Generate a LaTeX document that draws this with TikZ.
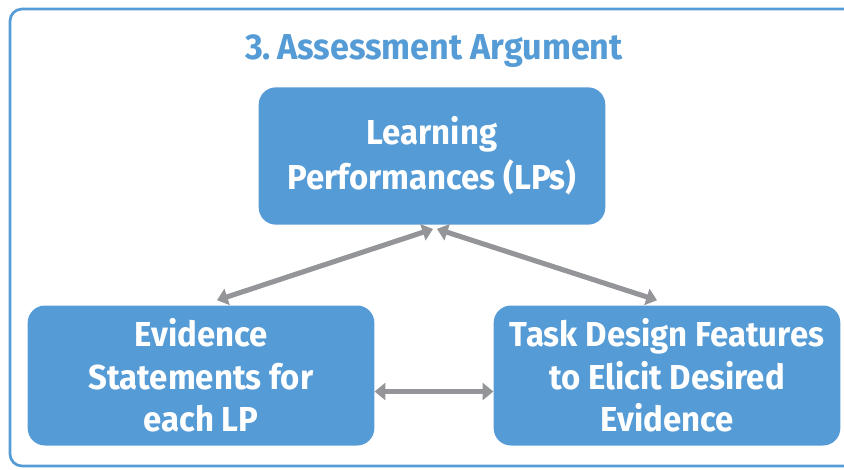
\documentclass[tikz,border=0pt]{standalone}
\usepackage{fontspec}
\setmainfont[FakeStretch=0.95]{Fira Sans}
\usetikzlibrary{arrows.meta,positioning,calc}
\definecolor{boxblue}{HTML}{559BD5}
\definecolor{argray}{HTML}{939598}
\tikzset{
    %Define style for boxes
    punkt/.style={
           rectangle,
           rounded corners=13pt,
           fill=boxblue,
           text=white,
           font=\bfseries\fontsize{26}{32}\selectfont,
           align=center,
           minimum width=260pt,
           minimum height=105pt},
    % Define arrow style
    pil/.style={
           {Triangle[width=12.5pt,length=8pt]}-{Triangle[width=12.5pt,length=8pt]},
           line width=3.8pt,
           draw=argray}
}
\begin{document}
\begin{tikzpicture}[x=0.75pt,y=-0.75pt]
 \useasboundingbox (0,0) rectangle (844,469);
 %Frame and heading
 \draw[draw=boxblue,line width=2pt,rounded corners=9pt] (10,9) rectangle (870,466);
 \node[text=boxblue,font=\bfseries\fontsize{27}{30}\selectfont] (title) at (434,51) {3.\,Assessment Argument};

 %Boxes
 \node[punkt,minimum height=103pt,font=\bfseries\fontsize{26}{34}\selectfont] (lp) at (432,156) {Learning\\Performances (LPs)};
 \node[punkt] (ev) at (201,375.5) {Evidence\\Statements for\\each LP};
 \node[punkt] (td) at (667,375.5) {Task Design Features\\to Elicit Desired\\Evidence};

 %Arrows
 \coordinate (lpfoot) at ($(lp.south)+(3,4)$);
 \coordinate (evtop) at ($(ev.north)+(16,-5)$);
 \coordinate (tdtop) at ($(td.north)+(-10,-5)$);
 \draw[pil] ($(lpfoot)+(-2,0)$) -- (evtop);
 \draw[pil] ($(lpfoot)+(2,0)$) -- (tdtop);
 \draw[pil] ($(ev.east)+(0,16)$) -- ($(td.west)+(0,16)$);
\end{tikzpicture}
\end{document}
